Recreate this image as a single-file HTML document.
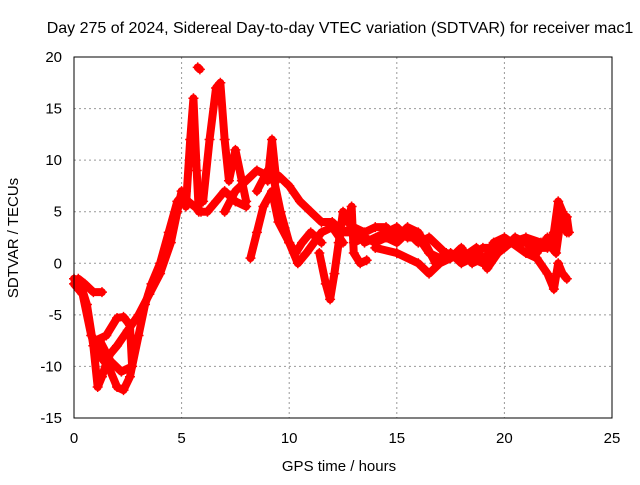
<!DOCTYPE html>
<html><head><meta charset="utf-8"><style>
body{margin:0;background:#fff}
svg text{font-family:"Liberation Sans",sans-serif;font-size:15px;fill:#000}
</style></head><body>
<svg id="c" width="640" height="480">
<text x="340" y="33" text-anchor="middle" style="font-size:16px">Day 275 of 2024, Sidereal Day-to-day VTEC variation (SDTVAR) for receiver mac1</text>
<text x="339" y="471" text-anchor="middle">GPS time / hours</text>
<text transform="translate(18,238) rotate(-90)" text-anchor="middle">SDTVAR / TECUs</text>
<g id="grid"></g><g id="ticks"></g><g id="series"></g>
<rect x="74" y="57" width="538" height="361" fill="none" stroke="#000" stroke-width="1"/>
</svg>
<script>
const xTicks=[0,5,10,15,20,25];
const yTicks=[-15,-10,-5,0,5,10,15,20];
const s1=[[0,-1.5],[0.3,-2],[0.6,-4],[0.9,-8],[1.1,-12],[1.3,-11],[1.6,-9],[2.0,-8],[2.5,-6.5],[3.0,-5],[3.5,-3],[4.0,-1],[4.5,2],[4.8,5],[5.0,7],[5.3,6],[5.6,5.5],[5.9,5],[6.2,5],[6.6,6],[7.0,7],[7.5,6],[8,5.5]];
const s2=[[0,-2],[0.4,-3],[0.8,-7],[1.2,-9],[1.6,-10],[2.0,-12],[2.3,-12.3],[2.6,-11],[3,-7],[3.3,-4],[3.6,-2],[4,0],[4.4,3],[4.8,6],[5.2,7]];
const s3=[[1.0,-7.5],[1.5,-7],[2,-5.3],[2.3,-5.2],[2.6,-6],[2.7,-10],[2.2,-10.5],[1.7,-9.5],[1.2,-7.5]];
const s4=[[0.2,-1.5],[0.5,-2],[0.9,-2.8],[1.3,-2.8]];
const s5=[[5.2,5.5],[5.4,12],[5.55,16],[5.7,9],[5.8,5]];
const s6=[[5.75,19],[5.85,18.8]];
const s7=[[6.0,6],[6.3,12],[6.6,17],[6.8,17.5],[7.0,12],[7.2,8],[7.5,11],[7.8,8],[8.0,6]];
const s8=[[7,5],[7.5,7],[8,8],[8.5,9],[9,8.5],[9.5,8.5],[10,7.5],[10.5,6],[11,5],[11.5,4],[12,4],[12.5,3],[13,3],[13.5,2.5]];
const s9=[[8.2,0.5],[8.5,3],[8.8,5.5],[9.2,7],[9.5,4],[10,2],[10.3,1],[10.6,2],[11,3],[11.5,2]];
const s10=[[8.5,7],[9,9],[9.3,8],[9.6,5],[10,2],[10.4,0],[10.8,1],[11.5,3],[12,3.5],[12.5,2]];
const s11=[[9.0,8],[9.2,12],[9.4,8]];
const s12=[[11.4,1],[11.7,-2],[11.9,-3.5],[12.1,-1],[12.3,2],[12.5,5],[12.7,4],[12.9,5.5],[13,1],[13.3,0],[13.6,0.3]];
const s13=[[13.5,2],[14.5,3],[15,3.5],[15.5,2.5],[16,2.5],[16.5,1],[17,0.5],[17.5,1],[18,0],[18.5,0.5],[19,1.5],[19.5,1.5],[20,2],[20.5,2],[21,2],[21.5,1.5],[22,1.5],[22.3,3],[22.5,6],[22.7,5],[22.9,3]];
const s14=[[14,1.5],[15,1],[16,0],[16.5,-1],[17,0],[18,1],[19,0],[19.5,2],[20,2.5],[21,1],[21.5,0.5],[22,-1],[22.3,-2.5],[22.5,0],[22.7,-1],[22.9,-1.5]];
const s15=[[21.5,2],[22,2],[22.4,1],[22.6,4],[22.9,4.5],[23,3]];
const s16=[[13,2],[13.5,2.5],[14,2],[14.5,2.5],[15,2],[15.5,3],[16,2],[16.5,2.5],[17,1.5],[17.5,0.5],[18,1.5],[18.5,0],[19,0.5],[19.5,1],[20,1.5],[20.5,2.5],[21,2],[21.5,1],[22,2.5]];
const s17=[[12.5,3],[13,3.5],[13.5,3],[14,3.5],[14.5,3.5],[15,2.5],[15.5,3.5],[16,3],[16.3,2],[16.8,0],[17.3,1],[18,0.5],[18.7,1.5],[19.2,-0.5],[19.7,1],[20.3,2],[21,2.5],[21.7,2]];
const allSeries=[s1,s2,s3,s4,s5,s6,s7,s8,s9,s10,s11,s12,s13,s14,s15,s16,s17];
const X=v=>74+v*538/25, Y=v=>418-(v+15)*361/35;
const NS='http://www.w3.org/2000/svg';
const g=document.getElementById('grid'),t=document.getElementById('ticks'),se=document.getElementById('series');
function mk(tag,a,p){const e=document.createElementNS(NS,tag);for(const k in a)e.setAttribute(k,a[k]);p.appendChild(e);return e;}
xTicks.forEach(v=>{
 const l=mk('line',{x1:X(v),x2:X(v),y1:57,y2:418,stroke:'#999','stroke-dasharray':'2,3'},g);
 
 
 const tx=mk('text',{x:X(v),y:443,'text-anchor':'middle'},t);tx.textContent=v;
 
 
});
yTicks.forEach(v=>{
 const l=mk('line',{x1:74,x2:612,y1:Y(v),y2:Y(v),stroke:'#999','stroke-dasharray':'2,3'},g);
 
 
 const tx=mk('text',{x:62,y:Y(v)+5,'text-anchor':'end'},t);tx.textContent=v;
 
 
});
allSeries.forEach((s,i)=>{
 const p=mk('polyline',{points:s.map(d=>X(d[0])+','+Y(d[1])).join(' '),fill:'none',stroke:'#f00','stroke-width':8,'stroke-linejoin':'round','stroke-linecap':'round'},se);
 
 
 s.forEach(d=>{
  const m=mk('path',{d:`M${X(d[0])-5},${Y(d[1])}h10M${X(d[0])},${Y(d[1])-5}v10`,stroke:'#f00','stroke-width':1.5},se);
  
  
 });
});
</script>
</body></html>
